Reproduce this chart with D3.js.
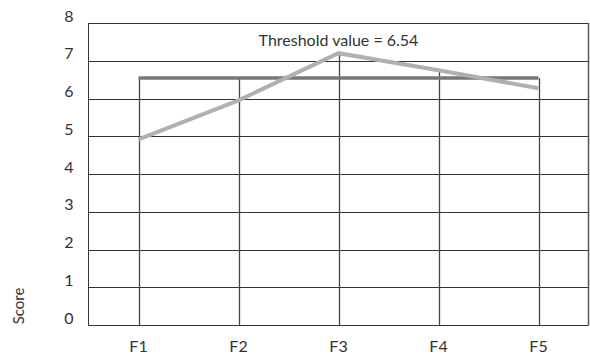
<!DOCTYPE html>
<html><head><meta charset="utf-8">
<script src="https://cdn.jsdelivr.net/npm/d3@7"></script>
<style>body{margin:0;background:#fff;} text{font-family:Lato,"Open Sans",sans-serif;fill:#333;}</style>
</head><body>
<svg id="c" width="590" height="355"></svg>
<script>
const categories = ["F1","F2","F3","F4","F5"];
const scores = [4.92, 5.95, 7.2, 6.75, 6.27];
const threshold = 6.54;
const yTicks = [0,1,2,3,4,5,6,7,8];
const thresholdLabel = "Threshold value = 6.54";

const svg = d3.select("#c");
const L=88.5, R=588.5, T=23, B=325;
const x = d3.scalePoint().domain(categories).range([L,R]).padding(0.5);
const y = d3.scaleLinear().domain([0,8]).range([B,T]);

// horizontal grid
svg.append("g").selectAll("line").data(yTicks).join("line")
  .attr("x1",L).attr("x2",R)
  .attr("y1",d=>Math.round(y(d))+0.5).attr("y2",d=>Math.round(y(d))+0.5)
  .attr("stroke","#333").attr("stroke-width",1);
// frame
svg.append("line").attr("x1",L).attr("x2",L).attr("y1",T).attr("y2",B+0.5).attr("stroke","#333");
svg.append("line").attr("x1",R).attr("x2",R).attr("y1",T).attr("y2",B+0.5).attr("stroke","#555").attr("stroke-width",1.5);
// vertical drop lines
svg.append("g").selectAll("line").data(categories).join("line")
  .attr("x1",d=>Math.round(x(d))+0.5).attr("x2",d=>Math.round(x(d))+0.5)
  .attr("y1",(d,i)=>y(Math.max(threshold,scores[i]))).attr("y2",B+0.5)
  .attr("stroke","#444").attr("stroke-width",1.3);
// threshold
svg.append("line").attr("x1",x(categories[0])).attr("x2",x(categories[categories.length-1]))
  .attr("y1",y(threshold)).attr("y2",y(threshold))
  .attr("stroke","#777").attr("stroke-width",3.5);
// score line
svg.append("path").datum(scores)
  .attr("d",d3.line().x((d,i)=>x(categories[i])).y(d=>y(d)))
  .attr("fill","none").attr("stroke","#b0b0b0").attr("stroke-width",4);
// y labels
svg.append("g").selectAll("text").data(yTicks).join("text")
  .attr("x",69).attr("y",d=>y(d)-1.5).attr("text-anchor","middle")
  .attr("font-size",16).text(d=>d);
// x labels
svg.append("g").selectAll("text").data(categories).join("text")
  .attr("x",d=>x(d)).attr("y",352).attr("text-anchor","middle")
  .attr("font-size",16).text(d=>d);
// threshold label
svg.append("text").attr("x",x(categories[2])).attr("y",46).attr("text-anchor","middle")
  .attr("font-size",16).text(thresholdLabel);
// axis title
svg.append("text").attr("transform","translate(24,306) rotate(-90)").attr("text-anchor","middle")
  .attr("font-size",15).text("Score");
</script>
</body></html>
